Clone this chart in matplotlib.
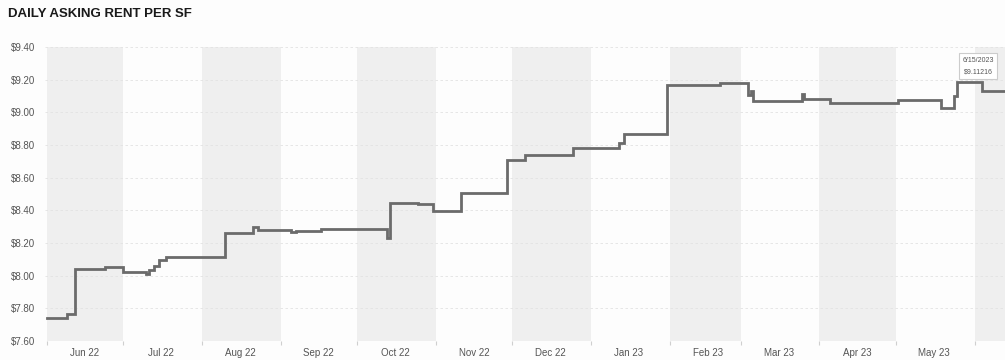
import matplotlib
matplotlib.use("Agg")
import matplotlib.pyplot as plt
import pandas as pd

# ---- data (change points of the daily asking rent) ----
dates = ["2022-06-01", "2022-06-09", "2022-06-12", "2022-06-24", "2022-07-01",
         "2022-07-10", "2022-07-11", "2022-07-13", "2022-07-15", "2022-07-18",
         "2022-08-10", "2022-08-21", "2022-08-23", "2022-09-05", "2022-09-07",
         "2022-09-17", "2022-10-13", "2022-10-14", "2022-10-25", "2022-10-31",
         "2022-11-11", "2022-11-29", "2022-12-06", "2022-12-25", "2023-01-12",
         "2023-01-14", "2023-01-31", "2023-02-21", "2023-03-04", "2023-03-05",
         "2023-03-06", "2023-03-25", "2023-03-26", "2023-04-05", "2023-05-02",
         "2023-05-19", "2023-05-24", "2023-05-25", "2023-06-04", "2023-06-13"]
rent = [7.74, 7.765, 8.04, 8.05, 8.02,
        8.01, 8.035, 8.06, 8.095, 8.115,
        8.26, 8.30, 8.28, 8.27, 8.275,
        8.285, 8.23, 8.445, 8.44, 8.395,
        8.505, 8.707, 8.74, 8.78, 8.81,
        8.87, 9.166, 9.18, 9.105, 9.13,
        9.07, 9.11, 9.08, 9.055, 9.075,
        9.025, 9.10, 9.185, 9.13, 9.13]

month_starts = pd.date_range("2022-06-01", "2023-06-01", freq="MS")
shaded_months = ["2022-06-01", "2022-08-01", "2022-10-01", "2022-12-01",
                 "2023-02-01", "2023-04-01", "2023-06-01"]
yticks = [7.60, 7.80, 8.00, 8.20, 8.40, 8.60, 8.80, 9.00, 9.20, 9.40]
title = "DAILY ASKING RENT PER SF"
tooltip_date = "6/15/2023"
tooltip_value = "$9.11216"

plt.rcParams['font.family'] = ['Liberation Sans', 'DejaVu Sans']

fig = plt.figure(figsize=(10.05, 3.6), dpi=100)
fig.patch.set_facecolor("#fdfdfd")
ax = fig.add_axes([45 / 1005, 19 / 360, 960 / 1005, 294 / 360])
ax.set_facecolor("#fdfdfd")

d = pd.to_datetime(dates)
xmin = pd.Timestamp("2022-05-31 06:00")
xmax = pd.Timestamp("2023-06-13")

# alternating month bands
for s in shaded_months:
    s = pd.Timestamp(s)
    e = s + pd.offsets.MonthBegin(1)
    ax.axvspan(s, min(e, xmax), color="#efefef", lw=0, zorder=0)

ax.step(d, rent, where="post", color="#6b6b6b", lw=2.0, zorder=3,
        solid_joinstyle="miter")

ax.set_yticks(yticks)
ax.set_yticklabels([f"${v:.2f}" for v in yticks])
ax.yaxis.grid(True, color="#e2e2e2", lw=0.6, ls=(0, (3, 3)), zorder=1)

# month labels at mid-month
labelled = month_starts[:-1]
mids = [m + pd.Timedelta(days=15) for m in labelled]
ax.set_xticks(mids)
ax.set_xticklabels([m.strftime("%b %y") for m in labelled])
ax.set_xticks(month_starts, minor=True)
ax.tick_params(axis="x", which="major", length=0, pad=5, labelsize=7, labelcolor="#555555")
ax.tick_params(axis="x", which="minor", length=3, color="#cfcfcf", width=0.8)
ax.tick_params(axis="y", length=0, pad=7, labelsize=7, labelcolor="#555555")
for sp in ax.spines.values():
    sp.set_visible(False)

ax.set_xlim(xmin, xmax)
ax.set_ylim(7.60, 9.40)

fig.text(8 / 1005, 1 - 14 / 360, title, fontsize=9.5, fontweight="bold",
         color="#1a1a1a", va="center", ha="left")

# tooltip
ax.annotate(f"{tooltip_date}\n{tooltip_value}", xy=(pd.Timestamp("2023-06-04"), 9.185),
            xytext=(978 / 1005, 1 - 66 / 360), textcoords="figure fraction",
            ha="center", va="center", fontsize=5, color="#555555", linespacing=1.9,
            bbox=dict(boxstyle="square,pad=0.5", fc="white", ec="#cccccc", lw=0.8),
            zorder=5)

fig.savefig("out.png", dpi=100, facecolor=fig.get_facecolor())
